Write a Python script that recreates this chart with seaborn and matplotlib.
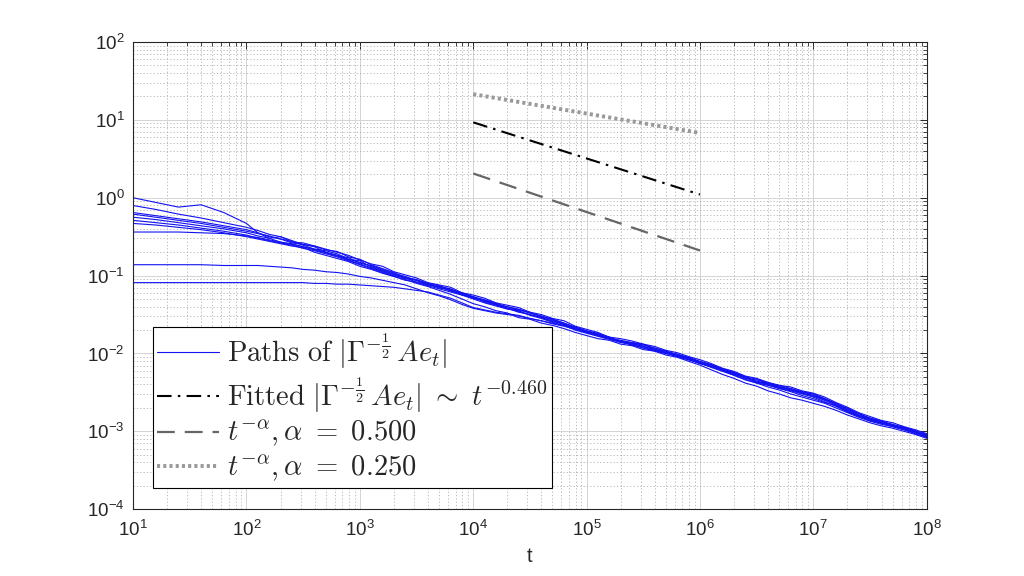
import numpy as np
import pandas as pd
import matplotlib
matplotlib.use("Agg")
import matplotlib.pyplot as plt
from matplotlib.lines import Line2D
import seaborn as sns

# time grid (log10 t) shared by all paths
t_exp = [1.0, 1.2, 1.4, 1.6, 1.8, 2.0,
         2.1, 2.2, 2.3, 2.4, 2.5, 2.6, 2.7, 2.8, 2.9, 3.0,
         3.1, 3.2, 3.3, 3.4, 3.5, 3.6, 3.7, 3.8, 3.9, 4.0,
         4.1, 4.2, 4.3, 4.4, 4.5, 4.6, 4.7, 4.8, 4.9, 5.0,
         5.1, 5.2, 5.3, 5.4, 5.5, 5.6, 5.7, 5.8, 5.9, 6.0,
         6.1, 6.2, 6.3, 6.4, 6.5, 6.6, 6.7, 6.8, 6.9, 7.0,
         7.1, 7.2, 7.3, 7.4, 7.5, 7.6, 7.7, 7.8, 7.9, 8.0]

# log10 |Gamma^-1/2 A e_t|, one list per path
path1 = [0.00, -0.06, -0.12, -0.09, -0.19, -0.33,
         -0.45, -0.52, -0.50, -0.55, -0.60, -0.62, -0.66, -0.70, -0.74, -0.80,
         -0.85, -0.88, -0.95, -0.99, -1.03, -1.09, -1.12, -1.15, -1.22, -1.25,
         -1.29, -1.35, -1.38, -1.41, -1.47, -1.50, -1.55, -1.58, -1.65, -1.69,
         -1.73, -1.79, -1.81, -1.84, -1.88, -1.91, -1.96, -1.99, -2.04, -2.08,
         -2.13, -2.19, -2.23, -2.29, -2.32, -2.37, -2.41, -2.43, -2.48, -2.51,
         -2.56, -2.63, -2.69, -2.76, -2.81, -2.86, -2.89, -2.94, -2.98, -3.03]
path2 = [-0.10, -0.15, -0.21, -0.26, -0.32, -0.38,
         -0.42, -0.47, -0.50, -0.57, -0.58, -0.62, -0.67, -0.69, -0.76, -0.79,
         -0.86, -0.91, -0.96, -1.03, -1.05, -1.10, -1.13, -1.18, -1.22, -1.27,
         -1.31, -1.35, -1.42, -1.44, -1.48, -1.52, -1.56, -1.61, -1.66, -1.71,
         -1.75, -1.79, -1.85, -1.86, -1.89, -1.93, -1.97, -2.01, -2.05, -2.10,
         -2.14, -2.20, -2.25, -2.32, -2.34, -2.38, -2.44, -2.45, -2.49, -2.52,
         -2.58, -2.64, -2.71, -2.79, -2.83, -2.87, -2.91, -2.95, -3.00, -3.06]
path3 = [-0.19, -0.23, -0.27, -0.31, -0.36, -0.41,
         -0.45, -0.50, -0.53, -0.58, -0.60, -0.63, -0.70, -0.74, -0.77, -0.84,
         -0.87, -0.92, -0.97, -1.01, -1.06, -1.12, -1.14, -1.20, -1.23, -1.29,
         -1.32, -1.36, -1.40, -1.43, -1.48, -1.52, -1.57, -1.63, -1.66, -1.71,
         -1.74, -1.81, -1.83, -1.86, -1.88, -1.95, -1.97, -2.03, -2.05, -2.12,
         -2.15, -2.20, -2.24, -2.30, -2.36, -2.38, -2.42, -2.47, -2.49, -2.54,
         -2.58, -2.66, -2.70, -2.77, -2.85, -2.87, -2.93, -2.95, -3.01, -3.04]
path4 = [-0.21, -0.25, -0.29, -0.33, -0.38, -0.43,
         -0.46, -0.49, -0.53, -0.56, -0.61, -0.66, -0.68, -0.72, -0.79, -0.81,
         -0.89, -0.94, -0.99, -1.04, -1.06, -1.11, -1.16, -1.18, -1.25, -1.27,
         -1.34, -1.38, -1.42, -1.46, -1.50, -1.54, -1.59, -1.62, -1.68, -1.73,
         -1.77, -1.80, -1.85, -1.89, -1.91, -1.96, -1.99, -2.02, -2.07, -2.13,
         -2.17, -2.22, -2.27, -2.31, -2.37, -2.40, -2.44, -2.47, -2.51, -2.55,
         -2.60, -2.66, -2.74, -2.80, -2.85, -2.89, -2.93, -2.96, -3.01, -3.07]
path5 = [-0.25, -0.28, -0.32, -0.36, -0.40, -0.45,
         -0.49, -0.52, -0.57, -0.59, -0.63, -0.67, -0.71, -0.75, -0.80, -0.85,
         -0.90, -0.95, -1.00, -1.02, -1.09, -1.13, -1.17, -1.21, -1.25, -1.30,
         -1.35, -1.39, -1.43, -1.45, -1.51, -1.55, -1.60, -1.64, -1.70, -1.74,
         -1.78, -1.82, -1.86, -1.88, -1.93, -1.97, -2.00, -2.04, -2.08, -2.12,
         -2.18, -2.23, -2.28, -2.33, -2.38, -2.41, -2.45, -2.48, -2.52, -2.56,
         -2.62, -2.68, -2.75, -2.81, -2.86, -2.90, -2.94, -2.98, -3.03, -3.08]
path6 = [-0.29, -0.32, -0.35, -0.39, -0.43, -0.48,
         -0.52, -0.55, -0.58, -0.61, -0.65, -0.68, -0.72, -0.76, -0.81, -0.86,
         -0.91, -0.96, -1.01, -1.05, -1.10, -1.14, -1.19, -1.24, -1.30, -1.36,
         -1.40, -1.45, -1.48, -1.54, -1.56, -1.61, -1.64, -1.68, -1.73, -1.77,
         -1.81, -1.83, -1.88, -1.90, -1.95, -1.97, -2.02, -2.05, -2.10, -2.15,
         -2.21, -2.27, -2.32, -2.38, -2.42, -2.48, -2.52, -2.57, -2.60, -2.64,
         -2.68, -2.73, -2.79, -2.84, -2.89, -2.93, -2.96, -3.00, -3.04, -3.09]
path7 = [-0.33, -0.35, -0.38, -0.41, -0.45, -0.50,
         -0.53, -0.56, -0.59, -0.62, -0.64, -0.70, -0.74, -0.78, -0.82, -0.88,
         -0.92, -0.97, -1.01, -1.06, -1.08, -1.12, -1.14, -1.17, -1.23, -1.28,
         -1.32, -1.37, -1.40, -1.44, -1.47, -1.53, -1.56, -1.61, -1.67, -1.72,
         -1.75, -1.79, -1.84, -1.87, -1.89, -1.93, -1.98, -2.01, -2.06, -2.11,
         -2.15, -2.21, -2.25, -2.30, -2.33, -2.38, -2.41, -2.45, -2.50, -2.52,
         -2.59, -2.64, -2.72, -2.77, -2.83, -2.87, -2.92, -2.95, -2.99, -3.04]
path8 = [-0.44, -0.44, -0.44, -0.45, -0.46, -0.49,
         -0.51, -0.54, -0.57, -0.60, -0.63, -0.66, -0.70, -0.74, -0.79, -0.83,
         -0.88, -0.93, -0.98, -1.03, -1.06, -1.10, -1.15, -1.19, -1.24, -1.29,
         -1.33, -1.37, -1.42, -1.47, -1.50, -1.54, -1.58, -1.62, -1.68, -1.72,
         -1.76, -1.81, -1.84, -1.87, -1.91, -1.95, -1.98, -2.03, -2.06, -2.11,
         -2.16, -2.20, -2.26, -2.31, -2.36, -2.39, -2.43, -2.46, -2.51, -2.54,
         -2.60, -2.66, -2.73, -2.79, -2.84, -2.88, -2.92, -2.97, -3.01, -3.05]
path9 = [-0.86, -0.86, -0.86, -0.86, -0.87, -0.87,
         -0.87, -0.88, -0.89, -0.90, -0.92, -0.93, -0.95, -0.96, -0.98, -1.01,
         -1.03, -1.06, -1.09, -1.12, -1.17, -1.22, -1.26, -1.31, -1.37, -1.42,
         -1.45, -1.48, -1.50, -1.52, -1.55, -1.58, -1.62, -1.65, -1.69, -1.73,
         -1.77, -1.80, -1.85, -1.88, -1.91, -1.95, -1.99, -2.04, -2.08, -2.13,
         -2.17, -2.22, -2.28, -2.34, -2.38, -2.43, -2.47, -2.52, -2.56, -2.60,
         -2.64, -2.70, -2.76, -2.82, -2.87, -2.91, -2.94, -2.98, -3.02, -3.07]
path10 = [-1.09, -1.09, -1.09, -1.09, -1.09, -1.09,
          -1.09, -1.09, -1.09, -1.09, -1.09, -1.10, -1.10, -1.11, -1.11, -1.12,
          -1.13, -1.14, -1.15, -1.17, -1.19, -1.21, -1.25, -1.29, -1.35, -1.41,
          -1.44, -1.47, -1.49, -1.51, -1.55, -1.58, -1.61, -1.64, -1.68, -1.73,
          -1.77, -1.81, -1.85, -1.89, -1.93, -1.96, -2.00, -2.03, -2.08, -2.12,
          -2.17, -2.21, -2.26, -2.31, -2.36, -2.40, -2.45, -2.49, -2.54, -2.58,
          -2.63, -2.67, -2.74, -2.80, -2.86, -2.89, -2.93, -2.96, -3.01, -3.06]
paths = [path1, path2, path3, path4, path5, path6, path7, path8, path9, path10]

# reference lines (endpoints at t = 1e4 and 1e6)
ref_t = [1e4, 1e6]
fit_vals = [9.3, 1.1]      # fitted ~ t^-0.460
alpha05_vals = [2.05, 0.21]
alpha025_vals = [21.4, 6.8]

rows = []
for i, p in enumerate(paths):
    for e, v in zip(t_exp, p):
        rows.append({"path": i, "t": 10 ** e, "val": 10 ** v})
df = pd.DataFrame(rows)

sns.set_theme(style="white")
plt.rcParams["font.family"] = ["Liberation Sans", "DejaVu Sans"]
plt.rcParams["mathtext.fontset"] = "cm"

fig = plt.figure(figsize=(10.24, 5.76), dpi=100)
ax = fig.add_axes([0.130, 0.116, 0.775, 0.811])

blue = "#1212f2"
dashdot = (0, (7, 3, 1.2, 3))
longdash = (0, (8, 4.5))
dots = (0, (0.8, 0.8))

sns.lineplot(data=df, x="t", y="val", units="path", estimator=None,
             color=blue, linewidth=0.8, ax=ax, legend=False)
sns.lineplot(x=ref_t, y=fit_vals, color="black", linewidth=1.5, ax=ax,
             linestyle=dashdot)
sns.lineplot(x=ref_t, y=alpha05_vals, color="#666666", linewidth=1.6, ax=ax,
             linestyle=longdash)
sns.lineplot(x=ref_t, y=alpha025_vals, color="#999999", linewidth=2.8, ax=ax,
             linestyle=dots)

ax.set_xscale("log")
ax.set_yscale("log")
ax.set_xlim(1e1, 1e8)
ax.set_ylim(1e-4, 1e2)
ax.set_xticks([10.0 ** k for k in range(1, 9)])
ax.set_yticks([10.0 ** k for k in range(-4, 3)])

ax.grid(True, which="major", color="#d4d4d4", linewidth=0.7, linestyle="-")
ax.grid(True, which="minor", color="#b0b0b0", linewidth=0.6, linestyle=(0, (1.5, 2.5)))
ax.set_axisbelow(True)
ax.tick_params(which="both", direction="in", top=True, right=True, colors="#262626",
               labelsize=13.5)
ax.tick_params(which="major", length=5, width=0.7)
ax.tick_params(which="minor", length=3, width=0.6)
ax.tick_params(axis="x", which="major", pad=8)
ax.tick_params(axis="y", which="major", pad=6)
for s in ax.spines.values():
    s.set_color("#262626")
    s.set_linewidth(0.8)

ax.set_xlabel("t", fontsize=14.5, color="#262626", labelpad=5)
ax.set_ylabel("")

handles = [
    Line2D([], [], color=blue, linewidth=0.8),
    Line2D([], [], color="black", linewidth=1.5, linestyle=dashdot),
    Line2D([], [], color="#666666", linewidth=1.6, linestyle=longdash),
    Line2D([], [], color="#999999", linewidth=2.8, linestyle=dots),
]
labels = [
    r"$\mathrm{Paths\ of}\ |\Gamma^{-\frac{1}{2}}\,Ae_t|$",
    r"$\mathrm{Fitted}\ |\Gamma^{-\frac{1}{2}}\,Ae_t|\ \sim\ t^{-0.460}$",
    r"$t^{-\alpha}, \alpha\ =\ 0.500$",
    r"$t^{-\alpha}, \alpha\ =\ 0.250$",
]
leg = ax.legend(handles, labels, loc="lower left", bbox_to_anchor=(0.025, 0.045),
                fontsize=20.6, frameon=True, fancybox=False, framealpha=1,
                edgecolor="black", handlelength=2.15, handletextpad=0.3,
                labelspacing=0.15, borderpad=0.15, borderaxespad=0)
leg.get_frame().set_linewidth(0.8)

fig.savefig("out.png", dpi=100, facecolor="white")
